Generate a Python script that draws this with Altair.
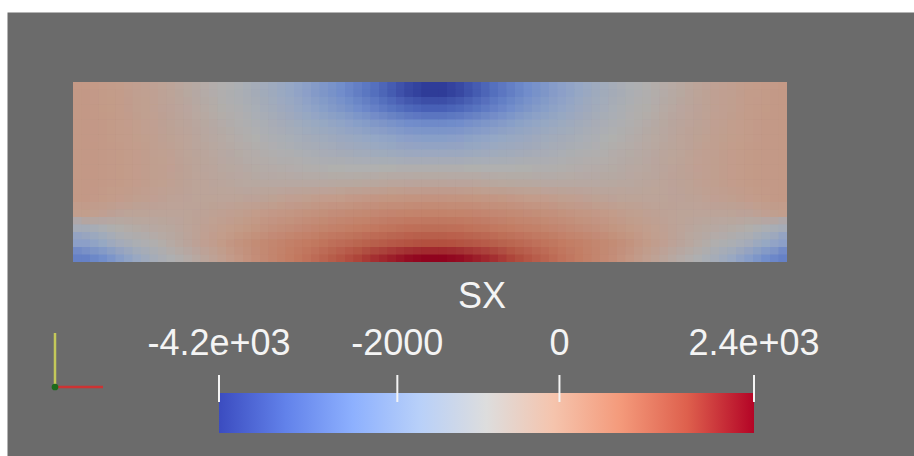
import altair as alt
import pandas as pd

# ---- colour bar / field range -------------------------------------------
SX_MIN, SX_MAX = -4200, 2400
TICK_VALUES = [-4200, -2000, 0, 2400]
TICK_LABELS = ["-4.2e+03", "-2000", "0", "2.4e+03"]
BAR_TITLE = "SX"

# Cool-to-warm diverging map, sampled every 1/8
COOLWARM = ["#3b4cc0", "#6282ea", "#8db0fe", "#b8d0f9", "#dddddd",
            "#f5c4ad", "#f49a7b", "#de604d", "#b40426"]

# ---- SX stress on a 42 x 12 grid of cells (rows top -> bottom) -------------
SX_ROWS = [
    [0, -50, -100, -200, -300, -400, -550, -700, -850, -1000, -1200, -1400, -1650, -1900, -2200, -2500, -2850, -3200, -3600, -3950, -4200,
     -4200, -3950, -3600, -3200, -2850, -2500, -2200, -1900, -1650, -1400, -1200, -1000, -850, -700, -550, -400, -300, -200, -100, -50, 0],
    [0, -40, -90, -180, -280, -380, -500, -650, -800, -950, -1100, -1280, -1480, -1700, -1950, -2200, -2500, -2800, -3100, -3350, -3500,
     -3500, -3350, -3100, -2800, -2500, -2200, -1950, -1700, -1480, -1280, -1100, -950, -800, -650, -500, -380, -280, -180, -90, -40, 0],
    [0, -30, -80, -160, -250, -350, -450, -580, -720, -850, -990, -1130, -1280, -1430, -1600, -1770, -1950, -2130, -2320, -2480, -2580,
     -2580, -2480, -2320, -2130, -1950, -1770, -1600, -1430, -1280, -1130, -990, -850, -720, -580, -450, -350, -250, -160, -80, -30, 0],
    [0, -30, -70, -140, -230, -320, -420, -540, -650, -770, -880, -990, -1100, -1210, -1320, -1440, -1560, -1680, -1800, -1900, -1960,
     -1960, -1900, -1800, -1680, -1560, -1440, -1320, -1210, -1100, -990, -880, -770, -650, -540, -420, -320, -230, -140, -70, -30, 0],
    [0, -20, -60, -120, -200, -290, -390, -490, -590, -690, -780, -870, -950, -1030, -1110, -1190, -1270, -1340, -1400, -1450, -1480,
     -1480, -1450, -1400, -1340, -1270, -1190, -1110, -1030, -950, -870, -780, -690, -590, -490, -390, -290, -200, -120, -60, -20, 0],
    [0, -20, -50, -110, -180, -260, -350, -440, -530, -610, -680, -740, -790, -830, -860, -880, -890, -890, -880, -870, -860,
     -860, -870, -880, -890, -890, -880, -860, -830, -790, -740, -680, -610, -530, -440, -350, -260, -180, -110, -50, -20, 0],
    [0, -20, -60, -120, -190, -270, -350, -420, -480, -530, -570, -590, -600, -600, -590, -570, -550, -520, -490, -460, -440,
     -440, -460, -490, -520, -550, -570, -590, -600, -600, -590, -570, -530, -480, -420, -350, -270, -190, -120, -60, -20, 0],
    [0, -50, -110, -180, -260, -330, -380, -410, -420, -410, -370, -310, -250, -190, -130, -70, -10, 40, 80, 110, 130,
     130, 110, 80, 40, -10, -70, -130, -190, -250, -310, -370, -410, -420, -410, -380, -330, -260, -180, -110, -50, 0],
    [-150, -250, -380, -400, -420, -420, -390, -340, -270, -190, -100, -10, 70, 150, 230, 300, 370, 430, 490, 530, 560,
     560, 530, 490, 430, 370, 300, 230, 150, 70, -10, -100, -190, -270, -340, -390, -420, -420, -400, -380, -250, -150],
    [-1200, -1000, -800, -680, -600, -520, -420, -300, -170, -40, 80, 200, 310, 420, 520, 620, 710, 800, 880, 940, 970,
     970, 940, 880, 800, 710, 620, 520, 420, 310, 200, 80, -40, -170, -300, -420, -520, -600, -680, -800, -1000, -1200],
    [-1900, -1600, -1250, -1000, -850, -650, -450, -250, -50, 150, 330, 480, 620, 750, 880, 1000, 1120, 1240, 1350, 1440, 1500,
     1500, 1440, 1350, 1240, 1120, 1000, 880, 750, 620, 480, 330, 150, -50, -250, -450, -650, -850, -1000, -1250, -1600, -1900],
    [-2800, -2500, -2000, -1550, -1200, -950, -700, -450, -200, 50, 300, 500, 700, 900, 1150, 1400, 1650, 1900, 2100, 2300, 2400,
     2400, 2300, 2100, 1900, 1650, 1400, 1150, 900, 700, 500, 300, 50, -200, -450, -700, -950, -1200, -1550, -2000, -2500, -2800],
]

# orientation triad (unit directions)
TRIAD_AXES = ["X", "Y"]
TRIAD_DX = [1, 0]
TRIAD_DY = [0, 1]


def shade(hex_color, k=0.8):
    """Darken a colour the way diffuse lighting dims the rendered surface."""
    r, g, b = (int(hex_color[i:i + 2], 16) for i in (1, 3, 5))
    return "#{:02x}{:02x}{:02x}".format(int(r * k), int(g * k), int(b * k))


SHADED = [shade(c) for c in COOLWARM]
N_ROWS = len(SX_ROWS)
N_COLS = len(SX_ROWS[0])

field_df = pd.DataFrame(
    [{"row": r, "col": c, "SX": v}
     for r, row in enumerate(SX_ROWS) for c, v in enumerate(row)]
)

FONT = "Liberation Sans"
TEXT_COLOR = "#f4f4f4"

# ---- stress field ----------------------------------------------------------
fx = alt.Scale(range=[66, 780], paddingInner=0, paddingOuter=0)
fy = alt.Scale(range=[70, 250], paddingInner=0, paddingOuter=0)
fc = alt.Scale(domain=[SX_MIN, SX_MAX], range=SHADED, interpolate="rgb")
CELL_W = (780 - 66) / N_COLS
CELL_H = (250 - 70) / N_ROWS


def field_layer(dx=0.0, dy=0.0, opacity=1.0):
    """One pass of the cell grid; half-cell shifted passes soften the blocks."""
    base = alt.Chart(field_df)
    if dx:
        base = base.transform_filter(f"datum.col < {N_COLS - 1}")
    if dy:
        base = base.transform_filter(f"datum.row < {N_ROWS - 1}")
    return base.mark_rect(
        strokeWidth=0, opacity=opacity,
        xOffset=dx, x2Offset=dx, yOffset=dy, y2Offset=dy,
    ).encode(
        x=alt.X("col:O", axis=None, scale=fx),
        y=alt.Y("row:O", axis=None, scale=fy),
        color=alt.Color("SX:Q", legend=None, scale=fc),
    )


field = alt.layer(
    field_layer(),
    field_layer(dx=CELL_W / 2, opacity=1 / 2),
    field_layer(dy=CELL_H / 2, opacity=1 / 3),
    field_layer(dx=CELL_W / 2, dy=CELL_H / 2, opacity=1 / 4),
)

# ---- colour bar -------------------------------------------------------------
bx = alt.Scale(domain=[SX_MIN, SX_MAX], range=[212, 747], nice=False, zero=False)

bar_df = pd.DataFrame({"lo": [SX_MIN], "hi": [SX_MAX]})
tick_df = pd.DataFrame({"value": TICK_VALUES, "label": TICK_LABELS})

gradient = alt.Gradient(
    gradient="linear",
    stops=[alt.GradientStop(offset=i / (len(COOLWARM) - 1), color=c)
           for i, c in enumerate(COOLWARM)],
    x1=0, x2=1, y1=0, y2=0,
)
bar = alt.Chart(bar_df).mark_rect(fill=gradient, strokeWidth=0).encode(
    x=alt.X("lo:Q", scale=bx, axis=None),
    x2="hi:Q",
    y=alt.value(381),
    y2=alt.value(421),
)
ticks = alt.Chart(tick_df).mark_rule(color=TEXT_COLOR, strokeWidth=2).encode(
    x=alt.X("value:Q", scale=bx, axis=None),
    y=alt.value(363),
    y2=alt.value(390),
)
tick_labels = alt.Chart(tick_df).mark_text(
    font=FONT, fontSize=36, color=TEXT_COLOR, baseline="alphabetic",
    align="center",
).encode(
    x=alt.X("value:Q", scale=bx, axis=None),
    y=alt.value(343),
    text="label:N",
)
bar_title = alt.Chart(pd.DataFrame({"t": [BAR_TITLE]})).mark_text(
    font=FONT, fontSize=36, color=TEXT_COLOR, baseline="alphabetic",
    align="center",
).encode(
    x=alt.value(475),
    y=alt.value(296),
    text="t:N",
)
colorbar = alt.layer(bar, ticks, tick_labels, bar_title)

# ---- orientation triad -------------------------------------------------------
triad_df = pd.DataFrame({"axis": TRIAD_AXES, "dx": TRIAD_DX, "dy": TRIAD_DY,
                         "ox": [0, 0], "oy": [0, 0]})
tx = alt.Scale(domain=[0, 1], range=[48, 96])
ty = alt.Scale(domain=[0, 1], range=[375, 321])
triad_lines = alt.Chart(triad_df).mark_rule(strokeWidth=2.5).encode(
    x=alt.X("ox:Q", scale=tx, axis=None),
    x2="dx:Q",
    y=alt.Y("oy:Q", scale=ty, axis=None),
    y2="dy:Q",
    color=alt.Color("axis:N", legend=None,
                    scale=alt.Scale(domain=TRIAD_AXES,
                                    range=["#cc3333", "#c4c85a"])),
)
triad_origin = alt.Chart(triad_df.head(1)).mark_circle(
    size=45, color="#1d6b1d", opacity=1
).encode(
    x=alt.X("ox:Q", scale=tx, axis=None),
    y=alt.Y("oy:Q", scale=ty, axis=None),
)
triad = alt.layer(triad_lines, triad_origin)

chart = (
    alt.layer(field, colorbar, triad)
    .resolve_scale(x="independent", y="independent", color="independent")
    .properties(
        width=907, height=444,
        padding={"left": 7, "top": 12, "right": 0, "bottom": 0},
        autosize=alt.AutoSizeParams(type="none"),
    )
    .configure(background="white")
    .configure_view(fill="#6b6b6b", stroke="transparent")
)

chart.save("out.html", embed_options={"renderer": "svg", "actions": False})
